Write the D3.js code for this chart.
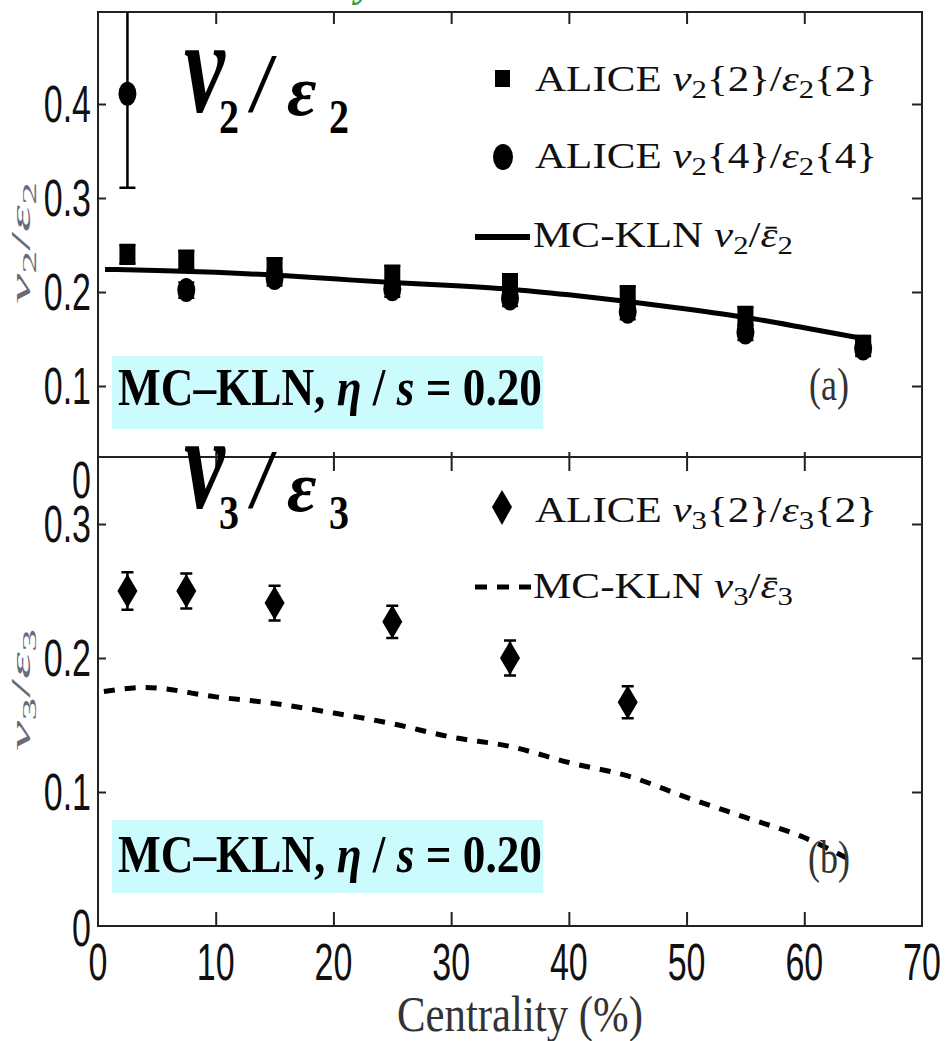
<!DOCTYPE html>
<html>
<head>
<meta charset="utf-8">
<script src="https://cdn.jsdelivr.net/npm/d3@7"></script>
<style>
  body { margin: 0; background: #fff; }
</style>
</head>
<body>
<div id="chart"></div>
<script>
// centrality bins (%)
const centrality = [2.5, 7.5, 15, 25, 35, 45, 55, 65];
// ALICE v2{2}/eps2{2}
const v2e2_2 = [0.240, 0.234, 0.226, 0.218, 0.209, 0.196, 0.174, 0.144];
const v2e2_2err = [0.010, 0.010, 0.010, 0.010, 0.010, 0.010, 0.010, 0.008];
// ALICE v2{4}/eps2{4}
const v2e2_4 = [0.411, 0.202, 0.215, 0.203, 0.193, 0.179, 0.157, 0.140];
const v2e2_4err = [0.100, 0.008, 0.008, 0.008, 0.008, 0.008, 0.008, 0.008];
// MC-KLN v2/eps2 curve
const klnV2x = [0.6, 5, 10, 15, 20, 25, 30, 35, 40, 45, 50, 55, 60, 65.2];
const klnV2 = [0.224, 0.223, 0.221, 0.218, 0.214, 0.210, 0.207, 0.203, 0.197, 0.190, 0.182, 0.173, 0.162, 0.150];
// ALICE v3{2}/eps3{2}
const v3Cent = [2.5, 7.5, 15, 25, 35, 45];
const v3e3 = [0.250, 0.250, 0.241, 0.227, 0.200, 0.167];
const v3e3err = [0.014, 0.013, 0.013, 0.012, 0.013, 0.012];
// MC-KLN v3/eps3 curve
const klnV3x = [0.5, 4, 10, 15, 20, 25, 30, 35, 40, 45, 50, 55, 60, 64.2];
const klnV3 = [0.175, 0.178, 0.171, 0.166, 0.159, 0.151, 0.141, 0.134, 0.122, 0.112, 0.096, 0.081, 0.066, 0.048];

const xTicks = [0, 10, 20, 30, 40, 50, 60, 70];
const yTicksTop = [0, 0.1, 0.2, 0.3, 0.4];
const yTicksBot = [0, 0.1, 0.2, 0.3];

const width = 945, height = 1041;
const left = 98, right = 922;
const topY = 12, midY = 457, botY = 926;

const svg = d3.select("#chart").append("svg")
    .attr("width", width)
    .attr("height", height);

const x = d3.scaleLinear().domain([0, 70]).range([left, right]);
const yT = d3.scaleLinear().domain([0, 0.5]).range([480, 10]);
const yB = d3.scaleLinear().domain([0, 0.35]).range([botY, midY]);

// clip paths for the two panels
const defs = svg.append("defs");
defs.append("clipPath").attr("id", "clipT")
  .append("rect").attr("x", left).attr("y", topY).attr("width", right - left).attr("height", midY - topY);
defs.append("clipPath").attr("id", "clipB")
  .append("rect").attr("x", left).attr("y", midY).attr("width", right - left).attr("height", botY - midY);

// stray green glyph cut off at the top edge
svg.append("text").attr("x", 356).attr("y", -4)
  .attr("font-family", "Liberation Serif").attr("font-style", "italic").attr("font-weight", "bold")
  .attr("font-size", 40).attr("fill", "#1aa64a").text("y");

// ticks (inward) drawn with axes
function ticks(g, axis) {
  g.call(axis.tickFormat(""));
  g.select(".domain").remove();
  g.selectAll(".tick line").attr("stroke", "#222").attr("stroke-width", 2);
}
const inner = [10, 20, 30, 40, 50, 60];
svg.append("g").attr("transform", `translate(0,${topY})`).call(ticks, d3.axisTop(x).tickValues(inner).tickSize(-12));
svg.append("g").attr("transform", `translate(0,${midY})`).call(ticks, d3.axisBottom(x).tickValues(inner).tickSize(-5));
svg.append("g").attr("transform", `translate(0,${midY})`).call(ticks, d3.axisTop(x).tickValues(inner).tickSize(-14));
svg.append("g").attr("transform", `translate(0,${botY})`).call(ticks, d3.axisBottom(x).tickValues(inner).tickSize(-14));
svg.append("g").attr("transform", `translate(${left},0)`).call(ticks, d3.axisLeft(yT).tickValues([0.1, 0.2, 0.3, 0.4]).tickSize(-8));
svg.append("g").attr("transform", `translate(${right},0)`).call(ticks, d3.axisRight(yT).tickValues([0.1, 0.2, 0.3, 0.4]).tickSize(-10));
svg.append("g").attr("transform", `translate(${left},0)`).call(ticks, d3.axisLeft(yB).tickValues([0.1, 0.2, 0.3]).tickSize(-8));
svg.append("g").attr("transform", `translate(${right},0)`).call(ticks, d3.axisRight(yB).tickValues([0.1, 0.2, 0.3]).tickSize(-10));

// frames
svg.append("rect").attr("x", left).attr("y", topY).attr("width", right - left).attr("height", botY - topY)
  .attr("fill", "none").attr("stroke", "#222").attr("stroke-width", 2);
svg.append("line").attr("x1", left).attr("x2", right).attr("y1", midY).attr("y2", midY)
  .attr("stroke", "#222").attr("stroke-width", 2);

// stretched sans tick labels
function label(px, py, txt, anchor) {
  svg.append("text")
    .attr("transform", `translate(${px},${py}) scale(1,1.5)`)
    .attr("text-anchor", anchor)
    .attr("dominant-baseline", "central")
    .attr("font-family", "Liberation Sans, Arial, sans-serif")
    .attr("font-size", 34)
    .attr("fill", "#111")
    .text(txt);
}
xTicks.forEach(t => label(x(t), 962, d3.format("d")(t), "middle"));
yTicksTop.forEach(t => label(91, yT(t), t === 0 ? "0" : d3.format(".1f")(t), "end"));
yTicksBot.forEach(t => label(91, yB(t) + (t === 0 ? 2 : 0), t === 0 ? "0" : d3.format(".1f")(t), "end"));

// axis titles
svg.append("text")
  .attr("transform", "translate(520,1031) scale(1,1.25)")
  .attr("text-anchor", "middle")
  .attr("font-family", "Liberation Serif, serif").attr("font-size", 40).attr("fill", "#333")
  .attr("textLength", 246).attr("lengthAdjust", "spacingAndGlyphs")
  .text("Centrality (%)");

function yTitle(cy, n) {
  const t = svg.append("text")
    .attr("transform", `translate(30,${cy}) rotate(-90)`)
    .attr("text-anchor", "middle")
    .attr("font-family", "Liberation Serif, serif").attr("font-size", 28).attr("fill", "#6a6a78")
    .attr("textLength", 122).attr("lengthAdjust", "spacingAndGlyphs");
  t.append("tspan").attr("font-style", "italic").text("v");
  t.append("tspan").attr("font-size", 19).attr("dy", 6).text(n);
  t.append("tspan").attr("dy", -6).text("/");
  t.append("tspan").attr("font-style", "italic").text("ε");
  t.append("tspan").attr("font-size", 19).attr("dy", 6).text(n);
}
yTitle(243, "2");
yTitle(690, "3");

// ---- top panel data ----
const gT = svg.append("g").attr("clip-path", "url(#clipT)");
const line2 = d3.line().x((d, i) => x(klnV2x[i])).y(d => yT(d)).curve(d3.curveMonotoneX);
gT.append("path").datum(klnV2).attr("d", line2)
  .attr("fill", "none").attr("stroke", "#000").attr("stroke-width", 5);

function errorBars(g, xs, ys, errs, yScale, cap) {
  g.selectAll(null).data(xs).enter().append("path")
    .attr("d", (d, i) => {
      const px = x(d), y1 = yScale(ys[i] + errs[i]), y0 = yScale(ys[i] - errs[i]);
      return `M${px - cap},${y1}H${px + cap}M${px},${y1}V${y0}M${px - cap},${y0}H${px + cap}`;
    })
    .attr("fill", "none").attr("stroke", "#000").attr("stroke-width", 2.5);
}
errorBars(gT, centrality, v2e2_4, v2e2_4err, yT, 8);
errorBars(gT, centrality, v2e2_2, v2e2_2err, yT, 8);

gT.selectAll(null).data(v2e2_4).enter().append("ellipse")
  .attr("cx", (d, i) => x(centrality[i])).attr("cy", d => yT(d))
  .attr("rx", 9).attr("ry", 12).attr("fill", "#000");
gT.selectAll(null).data(v2e2_2).enter().append("rect")
  .attr("x", (d, i) => x(centrality[i]) - 8).attr("y", d => yT(d) - 10)
  .attr("width", 16).attr("height", 20).attr("fill", "#000");

// ---- bottom panel data ----
const gB = svg.append("g").attr("clip-path", "url(#clipB)");
const line3 = d3.line().x((d, i) => x(klnV3x[i])).y(d => yB(d)).curve(d3.curveMonotoneX);
gB.append("path").datum(klnV3).attr("d", line3)
  .attr("fill", "none").attr("stroke", "#000").attr("stroke-width", 5)
  .attr("stroke-dasharray", "11,10");
errorBars(gB, v3Cent, v3e3, v3e3err, yB, 6);
gB.selectAll(null).data(v3e3).enter().append("path")
  .attr("d", (d, i) => {
    const px = x(v3Cent[i]), py = yB(d);
    return `M${px},${py - 17}L${px + 10},${py}L${px},${py + 17}L${px - 10},${py}Z`;
  })
  .attr("fill", "#000");

// ---- legends ----
const serif = "Liberation Serif, serif";
function legendText(px, py, parts, len) {
  const t = svg.append("text").attr("x", px).attr("y", py)
    .attr("font-family", serif).attr("font-size", 35).attr("fill", "#111")
    .attr("textLength", len).attr("lengthAdjust", "spacingAndGlyphs");
  let shift = 0, idx = 0;
  const bars = [];
  parts.forEach(p => {
    const s = t.append("tspan").text(p.t);
    const want = p.sub ? 7 : 0;
    s.attr("dy", want - shift); shift = want;
    if (p.sub) s.attr("font-size", 25);
    if (p.it) s.attr("font-style", "italic");
    if (p.bar) bars.push(idx);
    idx += p.t.length;
  });
  // macron over the averaged epsilon
  bars.forEach(i => {
    const e = t.node().getExtentOfChar(i);
    svg.append("line")
      .attr("x1", e.x + e.width * 0.3).attr("x2", e.x + e.width * 0.95)
      .attr("y1", e.y + e.height * 0.3).attr("y2", e.y + e.height * 0.3)
      .attr("stroke", "#111").attr("stroke-width", 2);
  });
  return t;
}
// top legend
svg.append("rect").attr("x", 495).attr("y", 70).attr("width", 15).attr("height", 17).attr("fill", "#000");
legendText(535, 91, [{t: "ALICE "}, {t: "v", it: 1}, {t: "2", sub: 1}, {t: "{2}/"}, {t: "ε", it: 1}, {t: "2", sub: 1}, {t: "{2}"}], 342);
svg.append("ellipse").attr("cx", 503).attr("cy", 157).attr("rx", 10).attr("ry", 13).attr("fill", "#000");
legendText(535, 168, [{t: "ALICE "}, {t: "v", it: 1}, {t: "2", sub: 1}, {t: "{4}/"}, {t: "ε", it: 1}, {t: "2", sub: 1}, {t: "{4}"}], 342);
svg.append("line").attr("x1", 475).attr("x2", 530).attr("y1", 237).attr("y2", 237)
  .attr("stroke", "#000").attr("stroke-width", 6);
legendText(533, 247, [{t: "MC-KLN "}, {t: "v", it: 1}, {t: "2", sub: 1}, {t: "/"}, {t: "ε", it: 1, bar: 1}, {t: "2", sub: 1}], 260);

// bottom legend
svg.append("path").attr("d", "M502,490L512,507L502,525L492,507Z").attr("fill", "#000");
legendText(535, 522, [{t: "ALICE "}, {t: "v", it: 1}, {t: "3", sub: 1}, {t: "{2}/"}, {t: "ε", it: 1}, {t: "3", sub: 1}, {t: "{2}"}], 342);
svg.append("line").attr("x1", 475).attr("x2", 531).attr("y1", 587).attr("y2", 587)
  .attr("stroke", "#000").attr("stroke-width", 5).attr("stroke-dasharray", "12,10");
legendText(533, 598, [{t: "MC-KLN "}, {t: "v", it: 1}, {t: "3", sub: 1}, {t: "/"}, {t: "ε", it: 1, bar: 1}, {t: "3", sub: 1}], 260);

// panel tags
[["(a)", 400], ["(b)", 873]].forEach(([s, py]) => {
  svg.append("text").attr("transform", `translate(829,${py}) scale(1,1.3)`)
    .attr("text-anchor", "middle").attr("font-family", serif).attr("font-size", 36).attr("fill", "#333")
    .text(s);
});

// MC-KLN annotation boxes
[[356, 405], [820, 872]].forEach(([by, base]) => {
  svg.append("rect").attr("x", 112).attr("y", by).attr("width", 431).attr("height", 73).attr("fill", "#ccfbfd");
  const t = svg.append("text").attr("x", 118).attr("y", base)
    .attr("font-family", "Liberation Serif, 'Times New Roman', serif").attr("font-weight", "bold")
    .attr("font-size", 52).attr("fill", "#000")
    .attr("textLength", 424).attr("lengthAdjust", "spacingAndGlyphs");
  t.append("tspan").text("MC\u2013KLN, ");
  t.append("tspan").attr("font-style", "italic").text("η");
  t.append("tspan").text(" / ");
  t.append("tspan").attr("font-style", "italic").text("s");
  t.append("tspan").text(" = 0.20");
});

// big panel titles v_n / eps_n
function bigTitle(n, base) {
  const fam = "Liberation Serif, 'Times New Roman', serif";
  const add = (txt, px, py, size, sy, italic) => svg.append("text")
    .attr("transform", `translate(${px},${py}) scale(1,${sy})`)
    .attr("font-family", fam).attr("font-weight", "bold")
    .attr("font-style", italic ? "italic" : "normal")
    .attr("font-size", size).attr("fill", "#000").text(txt);
  add("v", 184, base, 92, 1.45, true);
  add(n, 219, base + 21, 40, 1.2, false);
  add("/", 252, base, 70, 1.2, true);
  add("ε", 287, base + 3, 72, 1.0, true);
  add(n, 329, base + 21, 40, 1.2, false);
}
bigTitle("2", 112);
bigTitle("3", 508);
</script>
</body>
</html>
